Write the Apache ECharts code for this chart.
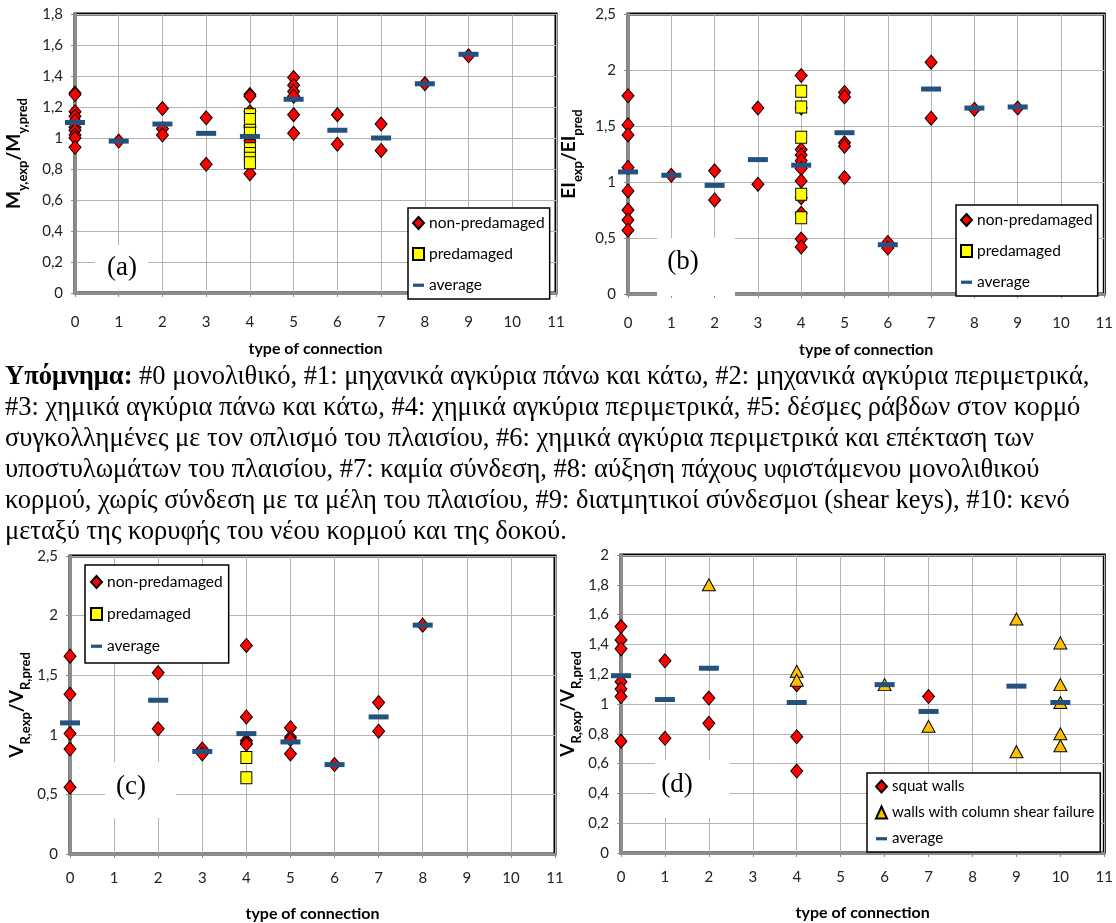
<!DOCTYPE html>
<html>
<head>
<meta charset="utf-8">
<title>connection types</title>
<script src="https://cdn.jsdelivr.net/npm/echarts@6/dist/echarts.min.js"></script>
<style>
  html, body { margin: 0; padding: 0; background: #fff; }
  #chart { width: 1116px; height: 923px; }
</style>
</head>
<body>
<div id="chart"></div>
<script>
// (a) M_y,exp / M_y,pred  -- [type of connection, ratio]
var aNonPredamaged = [[0,1.29],[0,1.28],[0,1.17],[0,1.14],[0,1.11],[0,1.07],[0,1.05],[0,1.02],[0,1.00],[0,0.94],
    [1,0.98],[2,1.19],[2,1.06],[2,1.02],[3,1.13],[3,0.83],
    [4,1.28],[4,1.27],[4,1.17],[4,1.08],[4,1.07],[4,1.00],[4,0.98],[4,0.77],
    [5,1.39],[5,1.34],[5,1.30],[5,1.27],[5,1.15],[5,1.03],
    [6,1.15],[6,0.96],[7,1.09],[7,0.92],[8,1.35],[9,1.53]];
var aPredamaged = [[4,1.15],[4,1.12],[4,1.05],[4,1.03],[4,0.93],[4,0.90],[4,0.87],[4,0.84]];
var aAverage = [[0,1.10],[1,0.98],[2,1.09],[3,1.03],[4,1.01],[5,1.25],[6,1.05],[7,1.00],[8,1.35],[9,1.54]];

// (b) EI_exp / EI_pred
var bNonPredamaged = [[0,1.77],[0,1.51],[0,1.42],[0,1.13],[0,0.92],[0,0.75],[0,0.66],[0,0.57],
    [1,1.06],[2,1.10],[2,0.84],[3,1.66],[3,0.98],
    [4,1.95],[4,1.66],[4,1.29],[4,1.24],[4,1.19],[4,1.12],[4,1.01],[4,0.86],[4,0.72],[4,0.49],[4,0.42],
    [5,1.80],[5,1.76],[5,1.35],[5,1.32],[5,1.04],
    [6,0.46],[6,0.41],[7,2.07],[7,1.57],[8,1.65],[9,1.66]];
var bPredamaged = [[4,1.81],[4,1.67],[4,1.40],[4,0.89],[4,0.68]];
var bAverage = [[0,1.09],[1,1.06],[2,0.97],[3,1.20],[4,1.15],[5,1.44],[6,0.44],[7,1.83],[8,1.66],[9,1.67]];

// (c) V_R,exp / V_R,pred
var cNonPredamaged = [[0,1.66],[0,1.34],[0,1.01],[0,0.88],[0,0.56],[2,1.52],[2,1.05],[3,0.88],[3,0.84],
    [4,1.75],[4,1.15],[4,0.95],[4,0.93],[4,0.92],[5,1.06],[5,0.98],[5,0.96],[5,0.84],
    [6,0.75],[7,1.27],[7,1.03],[8,1.92]];
var cPredamaged = [[4,0.81],[4,0.64]];
var cAverage = [[0,1.10],[2,1.29],[3,0.86],[4,1.01],[5,0.94],[6,0.75],[7,1.15],[8,1.92]];

// (d) V_R,exp / V_R,pred by failure mode
var dSquat = [[0,1.52],[0,1.43],[0,1.37],[0,1.15],[0,1.10],[0,1.05],[0,0.75],[1,1.29],[1,0.77],
    [2,1.04],[2,0.87],[4,1.13],[4,0.78],[4,0.55],[7,1.05]];
var dColumnShear = [[2,1.80],[4,1.22],[4,1.16],[6,1.13],[7,0.85],[9,1.57],[9,0.68],
    [10,1.41],[10,1.13],[10,1.01],[10,0.80],[10,0.72]];
var dAverage = [[0,1.19],[1,1.03],[2,1.24],[4,1.01],[6,1.13],[7,0.95],[9,1.12],[10,1.01]];

var legendText = [
  '{b|Υπόμνημα:} #0 μονολιθικό, #1: μηχανικά αγκύρια πάνω και κάτω, #2: μηχανικά αγκύρια περιμετρικά,',
  '#3: χημικά αγκύρια πάνω και κάτω, #4: χημικά αγκύρια περιμετρικά, #5: δέσμες ράβδων στον κορμό',
  'συγκολλημένες με τον οπλισμό του πλαισίου, #6: χημικά αγκύρια περιμετρικά και επέκταση των',
  'υποστυλωμάτων του πλαισίου, #7: καμία σύνδεση, #8: αύξηση πάχους υφιστάμενου μονολιθικού',
  'κορμού, χωρίς σύνδεση με τα μέλη του πλαισίου, #9: διατμητικοί σύνδεσμοι (shear keys), #10: κενό',
  'μεταξύ της κορυφής του νέου κορμού και της δοκού.'
];

var FONT = 'Lato, "Open Sans", sans-serif';
var AXIS_GRAY = '#8c8c8c';
var AVG_ICON = 'path://M0,0M0,12M0,4.5h12v3.5h-12z';

var chart = echarts.init(document.getElementById('chart'));

function xAxis(gi, labelMargin, nameGap) {
  return {
    type: 'value', gridIndex: gi, min: 0, max: 11, interval: 1,
    name: 'type of connection', nameLocation: 'middle', nameGap: nameGap,
    nameTextStyle: { fontFamily: FONT, fontWeight: 'bold', fontSize: 16, color: '#000' },
    axisLine: { onZero: false, lineStyle: { color: AXIS_GRAY, width: 3 } },
    axisTick: { show: true, length: 4, lineStyle: { color: AXIS_GRAY } },
    axisLabel: { margin: labelMargin, fontFamily: FONT, fontSize: 15, color: '#222' },
    splitLine: { show: true, lineStyle: { color: '#b4b4b4', width: 1 } }
  };
}

function yAxis(gi, max, interval, name, nameGap) {
  return {
    type: 'value', gridIndex: gi, min: 0, max: max, interval: interval,
    name: name, nameLocation: 'middle', nameGap: nameGap, nameRotate: 90,
    nameTextStyle: {
      rich: {
        b: { fontFamily: FONT, fontWeight: 'bold', fontSize: 19, color: '#000', padding: [0, 0, 6, 0] },
        s: { fontFamily: FONT, fontWeight: 'bold', fontSize: 13, color: '#000', verticalAlign: 'bottom' }
      }
    },
    axisLine: { onZero: false, lineStyle: { color: AXIS_GRAY, width: 3 } },
    axisTick: { show: true, length: 4, lineStyle: { color: AXIS_GRAY } },
    axisLabel: {
      margin: 12, fontFamily: FONT, fontSize: 15, color: '#222',
      formatter: function (v) { return String(+v.toFixed(2)).replace('.', ','); }
    },
    splitLine: { show: true, lineStyle: { color: '#b4b4b4', width: 1 } }
  };
}

function diamonds(name, gi, data) {
  return { type: 'scatter', name: name, xAxisIndex: gi, yAxisIndex: gi, data: data, z: 3,
    symbol: 'diamond', symbolSize: [12, 14],
    itemStyle: { color: '#ff0000', borderColor: '#000', borderWidth: 1, opacity: 1 } };
}
function squares(name, gi, data) {
  return { type: 'scatter', name: name, xAxisIndex: gi, yAxisIndex: gi, data: data, z: 4,
    symbol: 'rect', symbolSize: [11, 12],
    itemStyle: { color: '#ffff00', borderColor: '#000', borderWidth: 1, opacity: 1 } };
}
function triangles(name, gi, data) {
  return { type: 'scatter', name: name, xAxisIndex: gi, yAxisIndex: gi, data: data, z: 4,
    symbol: 'triangle', symbolSize: [13, 12],
    itemStyle: { color: '#ffc000', borderColor: '#000', borderWidth: 1, opacity: 1 } };
}
function average(gi, data) {
  return { type: 'scatter', name: 'average', xAxisIndex: gi, yAxisIndex: gi, data: data, z: 5,
    symbol: 'rect', symbolSize: [20, 5],
    itemStyle: { color: '#24527f', opacity: 1 } };
}

function legend(left, top, pad, gap, fontSize, items) {
  return {
    left: left, top: top, orient: 'vertical', selectedMode: false,
    backgroundColor: '#fff', borderColor: '#000', borderWidth: 1.5, borderRadius: 0,
    padding: pad, itemGap: gap, itemWidth: 11, itemHeight: 12,
    textStyle: { fontFamily: FONT, fontSize: fontSize, color: '#000' },
    data: items
  };
}
var dmgItems = [{ name: 'non-predamaged', icon: 'diamond' }, { name: 'predamaged', icon: 'rect' },
  { name: 'average', icon: AVG_ICON }];

function panelTag(label, box, tx, ty) {
  return [
    { type: 'rect', z: 20, shape: { x: box[0], y: box[1], width: box[2], height: box[3] },
      style: { fill: '#fff' } },
    { type: 'text', z: 21, x: tx, y: ty,
      style: { text: label, font: '27px "Liberation Serif", serif', fill: '#000',
        align: 'center', verticalAlign: 'middle' } }
  ];
}

var option = {
  animation: false,
  backgroundColor: '#fff',
  grid: [
    { left: 75, top: 14, width: 481, height: 279, show: true, borderColor: '#000', borderWidth: 3 },
    { left: 628, top: 14, width: 480, height: 280, show: true, borderColor: '#000', borderWidth: 3 },
    { left: 70, top: 556, width: 485, height: 299, show: true, borderColor: '#000', borderWidth: 3 },
    { left: 621, top: 555, width: 486, height: 298, show: true, borderColor: '#000', borderWidth: 3 }
  ],
  xAxis: [xAxis(0, 22, 48), xAxis(1, 22, 48), xAxis(2, 17, 52), xAxis(3, 17, 52)],
  yAxis: [
    yAxis(0, 1.8, 0.2, '{b|M}{s|y,exp}{b|/M}{s|y,pred}', 46),
    yAxis(1, 2.5, 0.5, '{b|EI}{s|exp}{b|/EI}{s|pred}', 44),
    yAxis(2, 2.5, 0.5, '{b|V}{s|R,exp}{b|/V}{s|R,pred}', 38),
    yAxis(3, 2, 0.2, '{b|V}{s|R,exp}{b|/V}{s|R,pred}', 38)
  ],
  legend: [
    legend(408, 208, [7, 5, 6, 4], 15, 15.5, dmgItems),
    legend(956, 205, [7, 5, 6, 4], 15, 15.5, dmgItems),
    legend(85, 565, [9, 6, 9, 5], 16, 15.5, dmgItems),
    legend(867, 773, [6, 6, 6, 8], 11, 15, [{ name: 'squat walls', icon: 'diamond' },
      { name: 'walls with column shear failure', icon: 'triangle' }, { name: 'average', icon: AVG_ICON }])
  ],
  series: [
    diamonds('non-predamaged', 0, aNonPredamaged), squares('predamaged', 0, aPredamaged), average(0, aAverage),
    diamonds('non-predamaged', 1, bNonPredamaged), squares('predamaged', 1, bPredamaged), average(1, bAverage),
    diamonds('non-predamaged', 2, cNonPredamaged), squares('predamaged', 2, cPredamaged), average(2, cAverage),
    diamonds('squat walls', 3, dSquat), triangles('walls with column shear failure', 3, dColumnShear), average(3, dAverage)
  ],
  graphic: [].concat(
    panelTag('(a)', [95, 245, 53, 45], 122, 268),
    panelTag('(b)', [657, 238, 78, 58], 683, 262),
    panelTag('(c)', [105, 762, 71, 56], 131, 787),
    panelTag('(d)', [655, 760, 75, 58], 677, 785),
    [{ type: 'text', left: 5, top: 362, z: 30,
       style: { text: legendText.join('\n'), font: '26.5px "Liberation Serif", serif', fill: '#000',
         lineHeight: 31,
         rich: { b: { fontFamily: '"Liberation Serif", serif', fontSize: 26.5, fontWeight: 'bold', lineHeight: 31 } } } }]
  )
};

chart.setOption(option);
</script>
</body>
</html>
